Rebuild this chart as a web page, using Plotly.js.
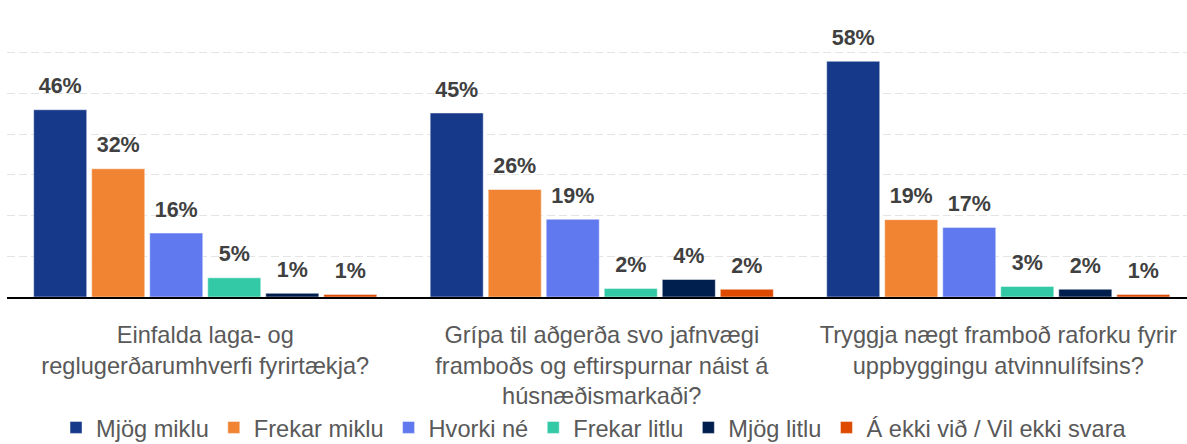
<!DOCTYPE html>
<html>
<head>
<meta charset="utf-8">
<script src="https://cdn.plot.ly/plotly-3.0.1.min.js"></script>
<style>html,body{margin:0;padding:0;background:#fff;}#chart{width:1187px;height:444px;}</style>
</head>
<body>
<div id="chart"></div>
<script>
const categories = [
  "Einfalda laga- og<br>reglugerðarumhverfi fyrirtækja?",
  "Grípa til aðgerða svo jafnvægi<br>framboðs og eftirspurnar náist á<br>húsnæðismarkaði?",
  "Tryggja nægt framboð raforku fyrir<br>uppbyggingu atvinnulífsins?"
];
const seriesNames = ["Mjög miklu", "Frekar miklu", "Hvorki né", "Frekar litlu", "Mjög litlu", "Á ekki við / Vil ekki svara"];
const mjogMiklu   = [46.0, 45.2, 57.9];
const frekarMiklu = [31.5, 26.4, 19.0];
const hvorkiNe    = [15.7, 19.1, 17.1];
const frekarLitlu = [4.7, 2.1, 2.6];
const mjogLitlu   = [0.9, 4.3, 1.9];
const aEkkiVid    = [0.6, 1.9, 0.6];
const labelsMjogMiklu   = ["46%", "45%", "58%"];
const labelsFrekarMiklu = ["32%", "26%", "19%"];
const labelsHvorkiNe    = ["16%", "19%", "17%"];
const labelsFrekarLitlu = ["5%", "2%", "3%"];
const labelsMjogLitlu   = ["1%", "4%", "2%"];
const labelsAEkkiVid    = ["1%", "2%", "1%"];

const values = [mjogMiklu, frekarMiklu, hvorkiNe, frekarLitlu, mjogLitlu, aEkkiVid];
const labels = [labelsMjogMiklu, labelsFrekarMiklu, labelsHvorkiNe, labelsFrekarLitlu, labelsMjogLitlu, labelsAEkkiVid];
const colors = ["#163A89", "#F08433", "#6179EE", "#33C9A7", "#001F4F", "#DE4A00"];

const traces = [];
for (let i = 0; i < seriesNames.length; i++) {
  traces.push({
    type: "bar",
    name: seriesNames[i],
    x: categories,
    y: values[i],
    offsetgroup: "g" + i,
    marker: {color: colors[i], line: {color: "rgba(255,255,255,0.45)", width: 1}},
    hoverinfo: "skip"
  });
}
for (let i = 0; i < seriesNames.length; i++) {
  traces.push({
    type: "scatter",
    mode: "markers+text",
    x: categories,
    y: values[i],
    text: labels[i],
    offsetgroup: "g" + i,
    textposition: "top center",
    textfont: {family: "Liberation Sans, Arial, sans-serif", size: 21.5, color: "#404040", weight: "bold"},
    marker: {size: 16, color: "rgba(0,0,0,0)"},
    showlegend: false,
    hoverinfo: "skip",
    cliponaxis: false
  });
}

const layout = {
  width: 1187,
  height: 444,
  margin: {l: 7, r: 0, t: 12, b: 147},
  paper_bgcolor: "#ffffff",
  plot_bgcolor: "#ffffff",
  barmode: "group",
  bargap: 0.122,
  bargroupgap: 0.086,
  scattermode: "group",
  scattergap: 0.122,
  font: {family: "Liberation Sans, Arial, sans-serif", color: "#595959"},
  xaxis: {
    type: "category",
    range: [-0.5, 2.476],
    showgrid: false,
    showline: true,
    linecolor: "#000000",
    linewidth: 1.5,
    ticks: "",
    ticklabelstandoff: 16,
    tickfont: {size: 23.6, color: "#595959"},
    fixedrange: true
  },
  yaxis: {
    range: [0, 70.01],
    dtick: 10,
    showgrid: true,
    gridcolor: "#e4e4e4",
    gridwidth: 1,
    griddash: "8px,4px",
    showticklabels: false,
    zeroline: false,
    ticks: "",
    fixedrange: true
  },
  showlegend: true,
  legend: {
    orientation: "h",
    xref: "container",
    yref: "container",
    x: 0.0472,
    xanchor: "left",
    y: 0.037,
    yanchor: "middle",
    font: {size: 23.6, color: "#595959"},
    traceorder: "normal",
    itemclick: false,
    itemdoubleclick: false
  }
};

Plotly.newPlot("chart", traces, layout, {displayModeBar: false, staticPlot: true});
</script>
</body>
</html>
